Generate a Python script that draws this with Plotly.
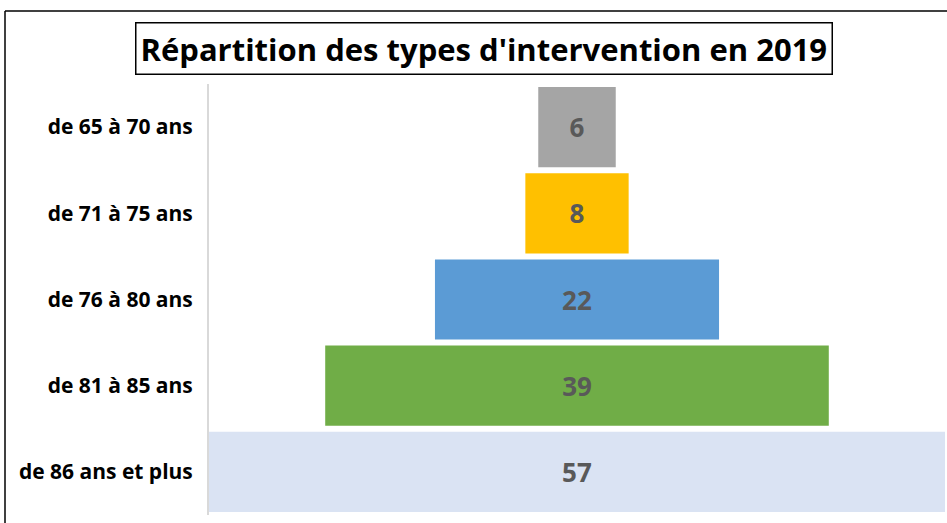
import plotly.graph_objects as go

categories = ["de 65 à 70 ans", "de 71 à 75 ans", "de 76 à 80 ans", "de 81 à 85 ans", "de 86 ans et plus"]
values = [6, 8, 22, 39, 57]
colors = ["#A5A5A5", "#FFC000", "#5B9BD5", "#70AD47", "#DAE3F3"]
title_text = "Répartition des types d'intervention en 2019"

W, H = 947, 523
L, R, T, B = 209, 2, 84, 8
pw, ph = W - L - R, H - T - B

def px_x(x):
    return (x - L) / pw

def px_y(y):
    return (H - B - y) / ph

fig = go.Figure(go.Funnel(
    y=categories,
    x=values,
    orientation="h",
    marker=dict(color=colors, line=dict(width=0)),
    connector=dict(visible=False),
    texttemplate="%{value}",
    textposition="inside",
    insidetextfont=dict(family="Open Sans", size=26, color="#595959", weight="bold"),
    hoverinfo="y+x",
))

fig.update_layout(
    width=W, height=H,
    margin=dict(l=L, r=R, t=T, b=B, pad=0),
    paper_bgcolor="white", plot_bgcolor="white",
    showlegend=False,
    funnelgap=0.07,
    xaxis=dict(range=[-28.5, 28.5], visible=False, fixedrange=True),
    yaxis=dict(
        showline=True, linecolor="#D9D9D9", linewidth=2,
        showgrid=False, ticks="", ticklabelstandoff=10,
        tickfont=dict(family="Open Sans", size=21, color="black", weight="bold"),
    ),
    annotations=[dict(
        text=title_text, xref="paper", yref="paper",
        x=px_x(484), y=px_y(48.5), xanchor="center", yanchor="middle",
        showarrow=False,
        font=dict(family="Open Sans", size=31, color="black", weight="bold"),
        bordercolor="black", borderwidth=1.5, borderpad=4, bgcolor="white",
    )],
    shapes=[
        dict(type="line", xref="paper", yref="paper",
             x0=px_x(5), x1=px_x(947), y0=px_y(11), y1=px_y(11),
             line=dict(color="black", width=1.5)),
        dict(type="line", xref="paper", yref="paper",
             x0=px_x(5), x1=px_x(5), y0=px_y(11), y1=px_y(523),
             line=dict(color="black", width=1.5)),
    ],
)

fig.write_html("out.html", config={"displayModeBar": False},
               post_script="document.body.style.margin='0';")
